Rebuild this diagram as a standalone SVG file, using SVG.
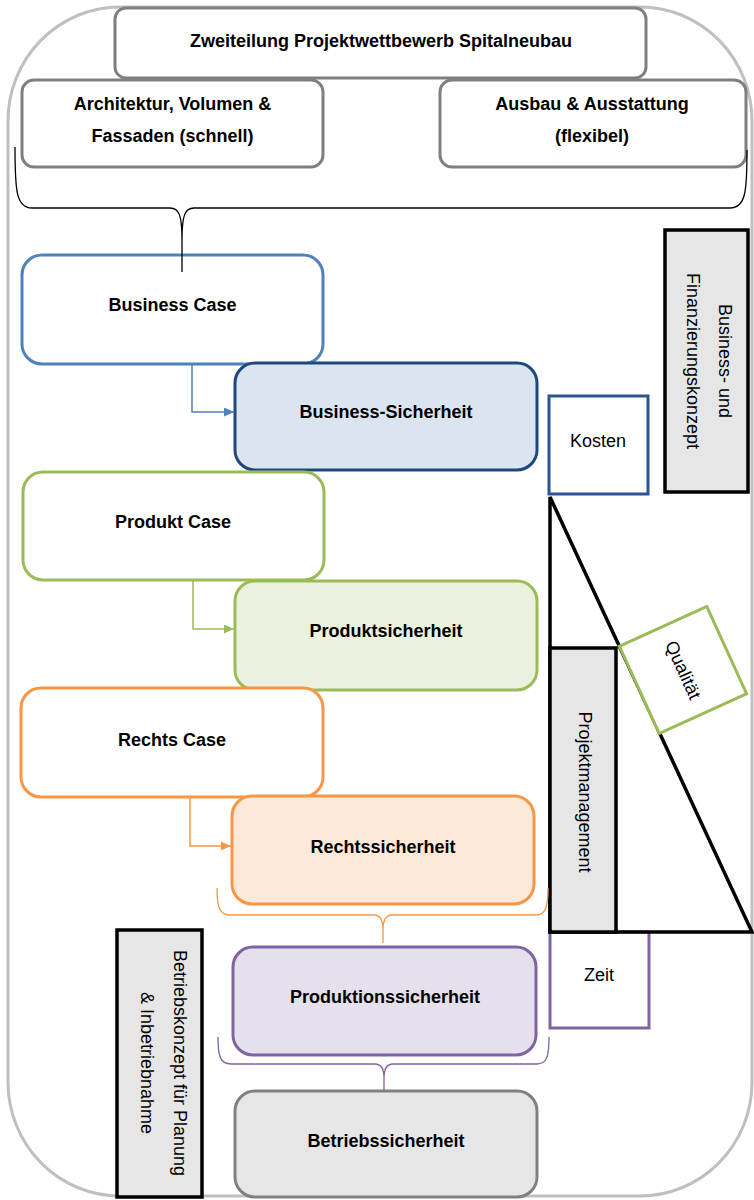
<svg xmlns="http://www.w3.org/2000/svg" width="754" height="1200" viewBox="0 0 754 1200">
<style>
text{font-family:"Liberation Sans",Arial,sans-serif;font-size:18px;fill:#000;text-anchor:middle}
.b{font-weight:bold}
.top{fill:#fff;stroke:#7f7f7f;stroke-width:3}
.blk{fill:#e6e6e6;stroke:#000;stroke-width:3.5}
.conn{fill:none;stroke-width:1.5}
.brace{fill:none;stroke-width:1.3}
</style>
<defs>
<marker id="ab" markerUnits="userSpaceOnUse" markerWidth="10" markerHeight="9" refX="10" refY="4.5" orient="auto"><path d="M0,0 L10,4.5 L0,9 z" fill="#4f81bd"/></marker>
<marker id="ag" markerUnits="userSpaceOnUse" markerWidth="10" markerHeight="9" refX="10" refY="4.5" orient="auto"><path d="M0,0 L10,4.5 L0,9 z" fill="#9bbb59"/></marker>
<marker id="ao" markerUnits="userSpaceOnUse" markerWidth="10" markerHeight="9" refX="10" refY="4.5" orient="auto"><path d="M0,0 L10,4.5 L0,9 z" fill="#f79646"/></marker>
</defs>
<rect id="frame" x="8" y="7" width="744" height="1189" rx="112" ry="114" fill="#fff" stroke="#bfbfbf" stroke-width="3"/>

<g id="n-top"><rect class="top" x="115" y="8" width="531" height="70" rx="11"/><text class="b" x="381" y="47">Zweiteilung Projektwettbewerb Spitalneubau</text></g>
<g id="n-arch"><rect class="top" x="22" y="80" width="301" height="87" rx="12"/><text class="b" x="172.5" y="110">Architektur, Volumen &amp;</text><text class="b" x="172.5" y="142">Fassaden (schnell)</text></g>
<g id="n-ausbau"><rect class="top" x="440" y="80" width="306" height="87" rx="12"/><text class="b" x="592" y="110">Ausbau &amp; Ausstattung</text><text class="b" x="592" y="142">(flexibel)</text></g>

<g id="n-bcase"><rect x="22" y="255" width="301" height="109" rx="20" fill="#fff" stroke="#4f81bd" stroke-width="3"/><text class="b" x="172.5" y="311">Business Case</text></g>
<g id="n-bsich"><rect x="235" y="363" width="302" height="107" rx="20" fill="#dbe5f1" stroke="#1f497d" stroke-width="3"/><text class="b" x="386" y="418">Business-Sicherheit</text></g>
<g id="n-pcase"><rect x="23" y="472" width="301" height="108" rx="20" fill="#fff" stroke="#9bbb59" stroke-width="3"/><text class="b" x="173" y="528">Produkt Case</text></g>
<g id="n-psich"><rect x="235" y="581" width="302" height="109" rx="20" fill="#ebf1de" stroke="#9bbb59" stroke-width="3"/><text class="b" x="386" y="637">Produktsicherheit</text></g>
<g id="n-rcase"><rect x="21" y="688" width="302" height="109" rx="20" fill="#fff" stroke="#f79646" stroke-width="3"/><text class="b" x="172" y="746">Rechts Case</text></g>
<g id="n-rsich"><rect x="232" y="796" width="302" height="108" rx="20" fill="#fde9d9" stroke="#f79646" stroke-width="3"/><text class="b" x="383" y="853">Rechtssicherheit</text></g>
<g id="n-prodsich"><rect x="233" y="947" width="303" height="108" rx="20" fill="#e5e0ec" stroke="#8064a2" stroke-width="3"/><text class="b" x="385" y="1003">Produktionssicherheit</text></g>
<g id="n-betrsich"><rect x="235" y="1091" width="302" height="106" rx="20" fill="#e6e6e6" stroke="#808080" stroke-width="3"/><text class="b" x="386" y="1147">Betriebssicherheit</text></g>

<g id="n-bfk"><rect class="blk" x="665" y="230" width="83" height="262"/><g transform="translate(709,361) rotate(90)"><text y="-10">Business- und</text><text y="22">Finanzierungskonzept</text></g></g>
<g id="n-kosten"><rect x="549" y="396" width="99" height="98" fill="#fff" stroke="#2a5494" stroke-width="3"/><text x="598" y="447">Kosten</text></g>
<g id="n-zeit"><rect x="550" y="932" width="99" height="96" fill="#fff" stroke="#8064a2" stroke-width="3"/><text x="599" y="981">Zeit</text></g>
<g id="n-triangle"><polygon points="550,497 550,932 752,932" fill="none" stroke="#000" stroke-width="3.5" stroke-linejoin="miter"/></g>
<g id="n-pm"><rect class="blk" x="550" y="648" width="66" height="284"/><g transform="translate(585,792) rotate(90)"><text y="6">Projektmanagement</text></g></g>
<g id="n-qual"><g transform="translate(683,670) rotate(-24.5)"><rect x="-48" y="-48" width="96" height="96" fill="#fff" stroke="#9bbb59" stroke-width="3"/></g><g transform="translate(683,670) rotate(65.5)"><text y="6">Qualität</text></g></g>
<g id="n-betrkonz"><rect class="blk" x="117" y="930" width="85" height="267"/><g transform="translate(163.5,1063) rotate(90)"><text y="-10">Betriebskonzept für Planung</text><text y="23">&amp; Inbetriebnahme</text></g></g>

<g id="connectors">
<path class="conn" stroke="#4f81bd" d="M192,364 V412 H234" marker-end="url(#ab)"/>
<path class="conn" stroke="#9bbb59" d="M193,580 V629 H234" marker-end="url(#ag)"/>
<path class="conn" stroke="#f79646" d="M190,797 V846 H231" marker-end="url(#ao)"/>
<path class="brace" stroke="#000" d="M15,147 C15,190 16,208 32,208 L170,208 C179,208 182,215 182,240 M182,240 C182,215 185,208 194,208 L730,208 C746,208 747,190 747,150 M182,240 V272"/>
<path class="brace" stroke="#f79646" d="M217,888 C217,906 219,915 230,915 L374,915 C380,915 383,920 383,930 M383,930 C383,920 386,915 392,915 L536,915 C546,915 548,906 548,888 M383,930 V943"/>
<path class="brace" stroke="#8064a2" d="M218,1037 C218,1056 220,1064 231,1064 L375,1064 C381,1064 384,1069 384,1078 M384,1078 C384,1069 387,1064 393,1064 L537,1064 C547,1064 549,1056 549,1037 M384,1078 V1092"/>
</g>
</svg>
